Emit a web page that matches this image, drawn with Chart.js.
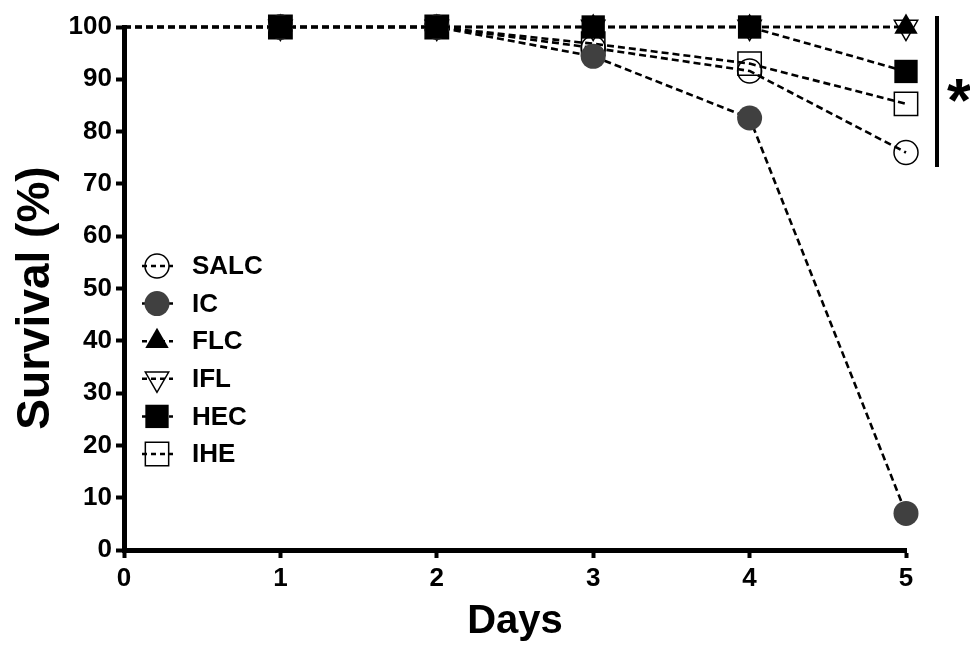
<!DOCTYPE html>
<html><head><meta charset="utf-8">
<script src="https://cdn.jsdelivr.net/npm/chart.js@4.4.0/dist/chart.umd.min.js"></script>
<style>html,body{margin:0;padding:0;background:#fff;}#wrap{width:970px;height:646px;position:relative;}</style>
</head><body><div id="wrap"><canvas id="c" width="970" height="646"></canvas></div>
<script>
// ---- data ----
const days = [0, 1, 2, 3, 4, 5];
const seriesNames = ['SALC', 'IC', 'FLC', 'IFL', 'HEC', 'IHE'];
const salc = [100, 100, 100, 96, 91.6, 76];
const ic   = [100, 100, 100, 94.4, 82.6, 7];
const flc  = [100, 100, 100, 100, 100, 100];
const ifl  = [100, 100, 100, 100, 100, 100];
const hec  = [100, 100, 100, 100, 100, 91.5];
const ihe  = [100, 100, 100, 96.8, 93, 85.3];
const yTickValues = [0, 10, 20, 30, 40, 50, 60, 70, 80, 90, 100];
const xTickValues = [0, 1, 2, 3, 4, 5];
const xTitle = 'Days';
const yTitle = 'Survival (%)';
const sigMark = '*';

const FONT = '"Liberation Sans", Arial, sans-serif';
const seriesValues = [salc, ic, flc, ifl, hec, ihe];
const styles = [
  {pointStyle: 'circle',   radius: 12, rot: 0,   bg: 'rgba(0,0,0,0)', bw: 1.5, order: 4},
  {pointStyle: 'circle',   radius: 12.5, rot: 0, bg: '#404040',       bw: 0,   order: 1},
  {pointStyle: 'triangle', radius: 13.5, rot: 0, bg: '#000',          bw: 0,   order: 2},
  {pointStyle: 'triangle', radius: 13.5, rot: 180, bg: 'rgba(0,0,0,0)', bw: 1.5, order: 3},
  {pointStyle: 'rect',     radius: 16.5, rot: 0, bg: '#000',          bw: 0,   order: 0},
  {pointStyle: 'rect',     radius: 16.5, rot: 0, bg: 'rgba(0,0,0,0)', bw: 1.5, order: 5}
];

const datasets = seriesNames.map((name, i) => ({
  label: name,
  data: days.map((d, j) => ({x: d, y: seriesValues[i][j]})),
  borderColor: '#000',
  borderWidth: 2.6,
  borderDash: [7, 4],
  fill: false,
  tension: 0,
  clip: false,
  order: styles[i].order,
  pointStyle: styles[i].pointStyle,
  pointRotation: styles[i].rot,
  pointRadius: days.map(d => d === 0 ? 0 : styles[i].radius),
  pointHoverRadius: days.map(d => d === 0 ? 0 : styles[i].radius),
  pointBackgroundColor: styles[i].bg,
  pointBorderColor: '#000',
  pointBorderWidth: styles[i].bw
}));

const legendPlugin = {
  id: 'customLegend',
  afterDraw(chart) {
    const ctx = chart.ctx;
    const x0 = 142, x1 = 173, xm = 157, xt = 192, y0 = 266, dy = 37.6;
    ctx.save();
    seriesNames.forEach((name, i) => {
      const y = y0 + i * dy;
      const s = styles[i];
      ctx.setLineDash([5, 4]);
      ctx.lineWidth = 2.5;
      ctx.strokeStyle = '#000';
      ctx.beginPath(); ctx.moveTo(x0, y); ctx.lineTo(x1, y); ctx.stroke();
      ctx.setLineDash([]);
      ctx.fillStyle = s.bg;
      ctx.lineWidth = s.bw;
      Chart.helpers.drawPoint(ctx, {pointStyle: s.pointStyle, rotation: s.rot, radius: s.radius, borderWidth: s.bw}, xm, y);
      ctx.fillStyle = '#000';
      ctx.font = 'bold 26px ' + FONT;
      ctx.textAlign = 'left';
      ctx.textBaseline = 'middle';
      ctx.fillText(name, xt, y + 1);
    });
    // y axis title
    ctx.save();
    ctx.translate(36, 298);
    ctx.rotate(-Math.PI / 2);
    ctx.font = 'bold 46px ' + FONT;
    ctx.textAlign = 'center';
    ctx.textBaseline = 'middle';
    ctx.fillStyle = '#000';
    ctx.fillText(yTitle, 0, 0);
    ctx.restore();
    // significance bar
    ctx.lineWidth = 4;
    ctx.strokeStyle = '#000';
    ctx.beginPath(); ctx.moveTo(937, 16); ctx.lineTo(937, 167); ctx.stroke();
    ctx.font = 'bold 62px ' + FONT;
    ctx.textAlign = 'center';
    ctx.textBaseline = 'middle';
    ctx.fillText(sigMark, 959, 104);
    ctx.restore();
  }
};

new Chart(document.getElementById('c'), {
  type: 'line',
  data: {datasets},
  plugins: [legendPlugin],
  options: {
    responsive: false,
    animation: false,
    events: [],
    layout: {padding: {left: 0, right: 64, top: 27, bottom: 0}},
    plugins: {legend: {display: false}, tooltip: {enabled: false}},
    scales: {
      x: {
        type: 'linear', min: 0, max: 5,
        afterFit(s) { s.height = 96; },
        afterBuildTicks(s) { s.ticks = xTickValues.map(v => ({value: v})); },
        border: {display: true, color: '#000', width: 5},
        grid: {drawOnChartArea: false, drawTicks: true, tickLength: 8, tickWidth: 4, tickColor: '#000'},
        ticks: {color: '#000', font: {family: FONT, size: 26, weight: 'bold'}, padding: 5, maxRotation: 0},
        title: {display: true, text: xTitle, color: '#000', font: {family: FONT, size: 40, weight: 'bold'}, padding: {top: 2, bottom: 0}}
      },
      y: {
        type: 'linear', min: 0, max: 100,
        afterFit(s) { s.width = 124; },
        afterBuildTicks(s) { s.ticks = yTickValues.map(v => ({value: v})); },
        border: {display: true, color: '#000', width: 5},
        grid: {drawOnChartArea: false, drawTicks: true, tickLength: 8, tickWidth: 4, tickColor: '#000'},
        ticks: {color: '#000', font: {family: FONT, size: 26, weight: 'bold'}, padding: 4},
        title: {display: false}
      }
    }
  }
});
</script></body></html>
